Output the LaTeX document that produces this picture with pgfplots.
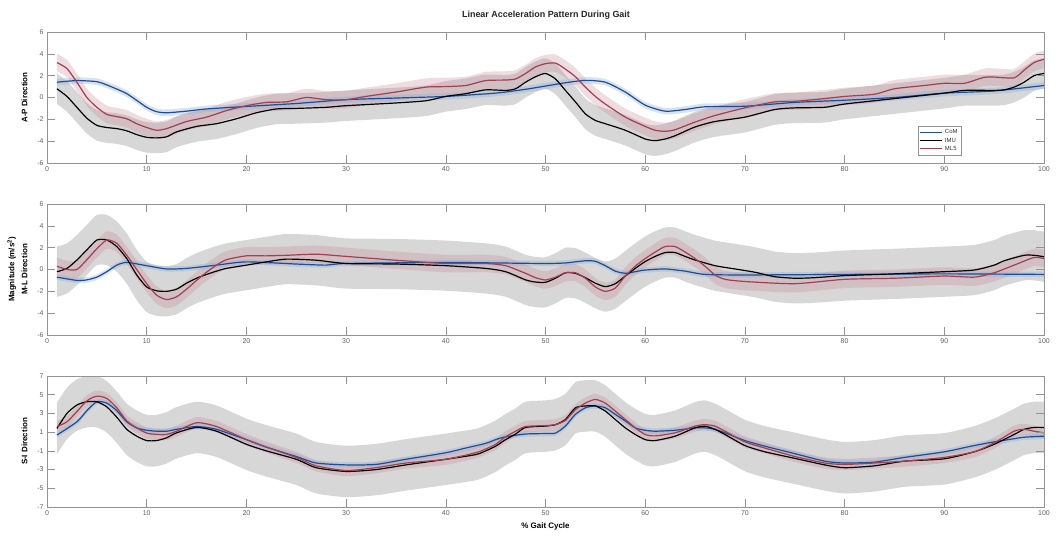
\documentclass[border=0pt]{standalone}
\usepackage{pgfplots}
\pgfplotsset{compat=1.18}
\usepackage{pgfplotstable}
\usepgfplotslibrary{fillbetween}
\usepackage{fontspec}
\setmainfont{Liberation Sans}
\definecolor{comblue}{HTML}{204C92}
\definecolor{mlred}{HTML}{A04050}
\definecolor{bandgray}{HTML}{D7D7D7}
\definecolor{bandpink}{HTML}{C98A98}
\definecolor{bandblue}{HTML}{8FB0DA}

% ---------- Panel 1: A-P ----------
\pgfplotstableread[row sep=\\]{x y\\
1 1.4\\ 3 1.55\\ 5 1.45\\ 6 1.15\\ 8 0.35\\ 10 -0.9\\ 11 -1.3\\ 12 -1.4\\ 14 -1.25\\ 16 -1.05\\ 20 -0.82\\ 25 -0.55\\ 30 -0.2\\ 35 -0.05\\ 40 0.1\\ 45 0.4\\ 48 0.75\\ 50 1.05\\ 52 1.35\\ 54 1.57\\ 56 1.4\\ 58 0.5\\ 60 -0.7\\ 62 -1.25\\ 64 -1.1\\ 66 -0.85\\ 70 -0.8\\ 75 -0.45\\ 80 -0.25\\ 85 0.0\\ 90 0.4\\ 95 0.6\\ 100 1.1\\
}\cA
\pgfplotstableread[row sep=\\]{x y\\
1 0.8\\ 2 0.1\\ 3 -0.9\\ 4 -1.9\\ 5 -2.55\\ 6 -2.75\\ 7 -2.85\\ 8 -3.05\\ 9 -3.4\\ 10 -3.65\\ 11 -3.7\\ 12 -3.6\\ 13 -3.15\\ 15 -2.65\\ 17 -2.4\\ 19 -1.95\\ 21 -1.4\\ 23 -1.05\\ 25 -1.0\\ 28 -0.9\\ 30 -0.75\\ 35 -0.5\\ 38 -0.3\\ 40 0.1\\ 42 0.35\\ 44 0.7\\ 46 0.65\\ 47 0.8\\ 48 1.4\\ 49 1.9\\ 50 2.2\\ 51 1.7\\ 52 0.65\\ 53 -0.4\\ 54 -1.5\\ 55 -2.1\\ 56 -2.4\\ 58 -3.0\\ 60 -3.8\\ 61 -3.95\\ 62 -3.8\\ 63 -3.5\\ 65 -2.7\\ 67 -2.2\\ 70 -1.8\\ 73 -1.1\\ 75 -0.95\\ 78 -0.9\\ 80 -0.6\\ 85 -0.1\\ 90 0.4\\ 92 0.65\\ 95 0.65\\ 96 0.7\\ 97 0.95\\ 98 1.4\\ 99 2.0\\ 100 2.2\\
}\iA
\pgfplotstableread[row sep=\\]{x y\\
1 3.2\\ 2 2.65\\ 3 1.4\\ 4 0.0\\ 5 -0.9\\ 6 -1.55\\ 7 -1.75\\ 8 -1.95\\ 9 -2.4\\ 10 -2.75\\ 11 -3.0\\ 12 -2.85\\ 14 -2.2\\ 16 -1.8\\ 18 -1.2\\ 20 -0.75\\ 22 -0.45\\ 24 -0.4\\ 26 0.0\\ 28 -0.2\\ 30 -0.2\\ 32 0.1\\ 35 0.5\\ 38 0.95\\ 40 1.0\\ 42 1.1\\ 44 1.55\\ 46 1.6\\ 47 1.7\\ 48 2.2\\ 49 2.8\\ 50 3.1\\ 51 3.15\\ 52 2.6\\ 53 1.9\\ 54 0.95\\ 55 0.1\\ 56 -0.6\\ 58 -1.8\\ 60 -2.65\\ 61 -3.0\\ 62 -3.1\\ 63 -2.95\\ 65 -2.25\\ 67 -1.65\\ 70 -0.95\\ 73 -0.4\\ 75 -0.35\\ 78 -0.1\\ 80 0.1\\ 83 0.3\\ 85 0.8\\ 88 1.1\\ 90 1.3\\ 92 1.3\\ 94 1.85\\ 95 1.87\\ 97 1.8\\ 98 2.5\\ 99 3.2\\ 100 3.5\\
}\mA

% ---------- Panel 2: M-L ----------
\pgfplotstableread[row sep=\\]{x y\\
1 -0.7\\ 3 -1.0\\ 4 -0.95\\ 5 -0.7\\ 6 -0.2\\ 7 0.4\\ 8 0.65\\ 10 0.35\\ 12 0.05\\ 14 0.1\\ 17 0.4\\ 20 0.7\\ 25 0.5\\ 28 0.4\\ 30 0.55\\ 40 0.65\\ 45 0.6\\ 50 0.55\\ 52 0.6\\ 54 0.8\\ 55 0.75\\ 56 0.35\\ 57 -0.15\\ 58 -0.35\\ 59 -0.2\\ 60 -0.05\\ 62 0.05\\ 64 -0.15\\ 66 -0.45\\ 70 -0.5\\ 80 -0.45\\ 90 -0.4\\ 100 -0.45\\
}\cB
\pgfplotstableread[row sep=\\]{x y\\
1 -0.2\\ 2 0.1\\ 3 0.87\\ 4 1.8\\ 5 2.7\\ 6 2.7\\ 7 2.1\\ 8 1.0\\ 9 -0.5\\ 10 -1.6\\ 11 -1.95\\ 12 -2.0\\ 13 -1.8\\ 14 -1.25\\ 15 -0.8\\ 16 -0.45\\ 17 -0.15\\ 18 0.1\\ 20 0.4\\ 22 0.7\\ 24 0.95\\ 27 0.85\\ 30 0.55\\ 35 0.5\\ 40 0.35\\ 44 0.1\\ 46 -0.2\\ 48 -0.95\\ 49 -1.15\\ 50 -1.17\\ 51 -0.8\\ 52 -0.3\\ 53 -0.35\\ 54 -0.75\\ 55 -1.25\\ 56 -1.57\\ 57 -1.3\\ 58 -0.6\\ 59 0.1\\ 60 0.73\\ 61 1.2\\ 62 1.55\\ 63 1.55\\ 64 1.2\\ 65 0.87\\ 67 0.35\\ 69 0.05\\ 71 -0.25\\ 73 -0.66\\ 75 -0.8\\ 77 -0.75\\ 80 -0.56\\ 85 -0.4\\ 90 -0.2\\ 93 -0.05\\ 95 0.4\\ 96 0.8\\ 98 1.3\\ 99 1.3\\ 100 1.17\\
}\iB
\pgfplotstableread[row sep=\\]{x y\\
1 0.3\\ 2 0.0\\ 3 0.0\\ 4 0.9\\ 5 1.9\\ 6 2.7\\ 7 2.4\\ 8 1.3\\ 9 0.0\\ 10 -1.3\\ 11 -2.35\\ 12 -2.75\\ 13 -2.5\\ 14 -1.8\\ 15 -1.0\\ 16 -0.25\\ 17 0.4\\ 18 0.9\\ 20 1.25\\ 22 1.25\\ 24 1.3\\ 27 1.4\\ 30 1.2\\ 35 0.85\\ 40 0.55\\ 44 0.55\\ 46 0.35\\ 48 -0.35\\ 49 -0.75\\ 50 -0.96\\ 51 -0.7\\ 52 -0.3\\ 53 -0.3\\ 54 -0.8\\ 55 -1.6\\ 56 -2.0\\ 57 -1.7\\ 58 -0.6\\ 59 0.3\\ 60 1.0\\ 61 1.6\\ 62 2.1\\ 63 2.1\\ 64 1.6\\ 65 1.0\\ 66 0.3\\ 67 -0.5\\ 68 -0.9\\ 70 -1.1\\ 75 -1.3\\ 80 -0.9\\ 85 -0.8\\ 90 -0.6\\ 93 -0.7\\ 95 -0.3\\ 97 0.4\\ 99 1.1\\ 100 1.0\\
}\mB

% ---------- Panel 3: S-I ----------
\pgfplotstableread[row sep=\\]{x y\\
1 0.7\\ 3 2.1\\ 4 3.3\\ 5 4.25\\ 6 4.1\\ 7 3.3\\ 8 2.1\\ 9 1.46\\ 10 1.2\\ 11 1.1\\ 12 1.1\\ 13 1.3\\ 15 1.6\\ 17 1.3\\ 20 0.2\\ 22 -0.6\\ 25 -1.6\\ 27 -2.3\\ 30 -2.5\\ 33 -2.45\\ 36 -1.9\\ 40 -1.2\\ 42 -0.7\\ 44 -0.2\\ 45 0.2\\ 46 0.5\\ 48 0.8\\ 50 0.85\\ 51 0.9\\ 52 1.65\\ 53 2.9\\ 54 3.6\\ 55 3.8\\ 56 3.6\\ 57 2.9\\ 58 2.2\\ 59 1.46\\ 60 1.2\\ 61 1.1\\ 63 1.2\\ 65 1.46\\ 66 1.46\\ 67 1.3\\ 68 0.93\\ 70 0.1\\ 72 -0.5\\ 75 -1.3\\ 78 -2.1\\ 80 -2.3\\ 83 -2.2\\ 86 -1.7\\ 90 -1.1\\ 93 -0.43\\ 95 -0.04\\ 97 0.3\\ 98 0.46\\ 100 0.57\\
}\cC
\pgfplotstableread[row sep=\\]{x y\\
1 1.4\\ 2 3.0\\ 3 3.9\\ 4 4.25\\ 5 4.25\\ 6 3.7\\ 7 2.6\\ 8 1.3\\ 9 0.57\\ 10 0.1\\ 11 0.1\\ 12 0.4\\ 13 0.93\\ 15 1.5\\ 17 1.1\\ 20 -0.3\\ 22 -1.0\\ 25 -1.9\\ 27 -2.8\\ 30 -3.2\\ 33 -3.0\\ 36 -2.5\\ 40 -1.9\\ 43 -1.4\\ 44 -1.0\\ 45 -0.5\\ 46 0.2\\ 47 0.8\\ 48 1.5\\ 50 1.65\\ 51 1.8\\ 52 2.35\\ 53 3.6\\ 54 3.8\\ 55 3.8\\ 56 3.25\\ 57 2.35\\ 58 1.46\\ 59 0.75\\ 60 0.2\\ 61 0.1\\ 63 0.57\\ 65 1.46\\ 66 1.64\\ 67 1.3\\ 68 0.75\\ 70 -0.43\\ 72 -1.1\\ 75 -1.8\\ 78 -2.5\\ 80 -2.8\\ 83 -2.6\\ 86 -2.1\\ 90 -1.85\\ 93 -1.1\\ 95 -0.3\\ 97 0.75\\ 98 1.3\\ 99 1.5\\ 100 1.5\\
}\iC
\pgfplotstableread[row sep=\\]{x y\\
1 1.6\\ 2 2.1\\ 3 3.2\\ 4 4.35\\ 5 4.85\\ 6 4.6\\ 7 3.6\\ 8 2.2\\ 9 1.46\\ 10 0.9\\ 11 0.75\\ 12 0.75\\ 13 1.1\\ 15 2.0\\ 17 1.6\\ 20 0.2\\ 22 -0.6\\ 25 -1.7\\ 27 -2.6\\ 30 -3.1\\ 33 -2.8\\ 36 -2.3\\ 40 -1.9\\ 43 -1.2\\ 44 -0.8\\ 45 -0.3\\ 46 0.5\\ 47 1.1\\ 48 1.6\\ 50 1.7\\ 51 1.8\\ 52 2.25\\ 53 3.4\\ 54 4.1\\ 55 4.5\\ 56 4.1\\ 57 3.25\\ 58 2.35\\ 59 1.46\\ 60 0.75\\ 61 0.6\\ 63 0.93\\ 65 1.64\\ 66 1.8\\ 67 1.64\\ 68 1.1\\ 70 -0.04\\ 72 -0.7\\ 75 -1.6\\ 78 -2.3\\ 80 -2.45\\ 83 -2.3\\ 86 -2.1\\ 90 -1.7\\ 93 -1.1\\ 95 -0.15\\ 97 1.1\\ 98 1.3\\ 99 1.1\\ 100 0.93\\
}\mC

\newcommand{\band}[5]{%
  \addplot[draw=none, smooth, tension=0.4, name path=#1u, forget plot] table[x=x, y expr=\thisrow{y}+#3] {#2};
  \addplot[draw=none, smooth, tension=0.4, name path=#1l, forget plot] table[x=x, y expr=\thisrow{y}-#3] {#2};
  \addplot[fill=#4, fill opacity=#5, draw=none, forget plot] fill between[of=#1u and #1l];
}

\pgfplotsset{
  panel/.style={
    scale only axis, width=997bp, height=131bp,
    xmin=0, xmax=100, xtick={0,10,...,100},
    axis line style={draw=gray!85},
    tick style={draw=gray!85, line width=0.5bp},
    major tick length=8bp, tick align=inside,
    ticklabel style={font=\fontsize{7}{8}\selectfont, text=gray!75!black},
    /pgf/number format/assume math mode=true,
    ylabel style={font=\bfseries\fontsize{8}{13}\selectfont, align=center},
    ylabel shift=3bp,
    axis on top,
  },
  ln/.style={smooth, tension=0.4, line width=1.2bp},
}

\begin{document}
\begin{tikzpicture}
\path (0,0) rectangle (1061bp,538bp);

\begin{axis}[panel, at={(47bp,375bp)}, anchor=south west,
  ymin=-6, ymax=6, ytick={-6,-4,...,6},
  ylabel={A-P Direction},
  legend style={at={(0.917,0.282)}, anchor=north east, font=\fontsize{6}{7}\selectfont,
    draw=gray!85, inner sep=1.5bp, row sep=-1.5bp, text=gray!40!black},
  legend image code/.code={\draw[#1, line width=1.2bp] (0bp,0bp) -- (22bp,0bp);},
  legend cell align=left]
  \band{ga}{\iA}{1.4}{bandgray}{1}
  \band{pa}{\mA}{0.8}{bandpink}{0.3}
  \band{ba}{\cA}{0.3}{bandblue}{0.35}
  \addplot[ln, comblue] table[x=x,y=y] {\cA}; \addlegendentry{CoM}
  \addplot[ln, black] table[x=x,y=y] {\iA}; \addlegendentry{IMU}
  \addplot[ln, mlred] table[x=x,y=y] {\mA}; \addlegendentry{ML5}
\end{axis}

\begin{axis}[panel, at={(47bp,203bp)}, anchor=south west,
  ymin=-6, ymax=6, ytick={-6,-4,...,6},
  ylabel={Magnitude (m/s\textsuperscript{2})\\M-L Direction}]
  \band{gb}{\iB}{2.3}{bandgray}{1}
  \band{pb}{\mB}{0.8}{bandpink}{0.3}
  \band{bb}{\cB}{0.25}{bandblue}{0.35}
  \addplot[ln, comblue] table[x=x,y=y] {\cB};
  \addplot[ln, black] table[x=x,y=y] {\iB};
  \addplot[ln, mlred] table[x=x,y=y] {\mB};
\end{axis}

\begin{axis}[panel, at={(47bp,31bp)}, anchor=south west,
  ymin=-7, ymax=7, ytick={-7,-5,...,7},
  ylabel={S-I Direction},
  xlabel={\% Gait Cycle},
  xlabel style={font=\bfseries\fontsize{8}{9}\selectfont}]
  \band{gc}{\iC}{2.75}{bandgray}{1}
  \band{pc}{\mC}{0.6}{bandpink}{0.3}
  \band{bc}{\cC}{0.3}{bandblue}{0.35}
  \addplot[ln, comblue] table[x=x,y=y] {\cC};
  \addplot[ln, black] table[x=x,y=y] {\iC};
  \addplot[ln, mlred] table[x=x,y=y] {\mC};
\end{axis}

\node[font=\bfseries\fontsize{9}{10}\selectfont, text=black!85] at (546bp,523bp) {Linear Acceleration Pattern During Gait};
\end{tikzpicture}
\end{document}
